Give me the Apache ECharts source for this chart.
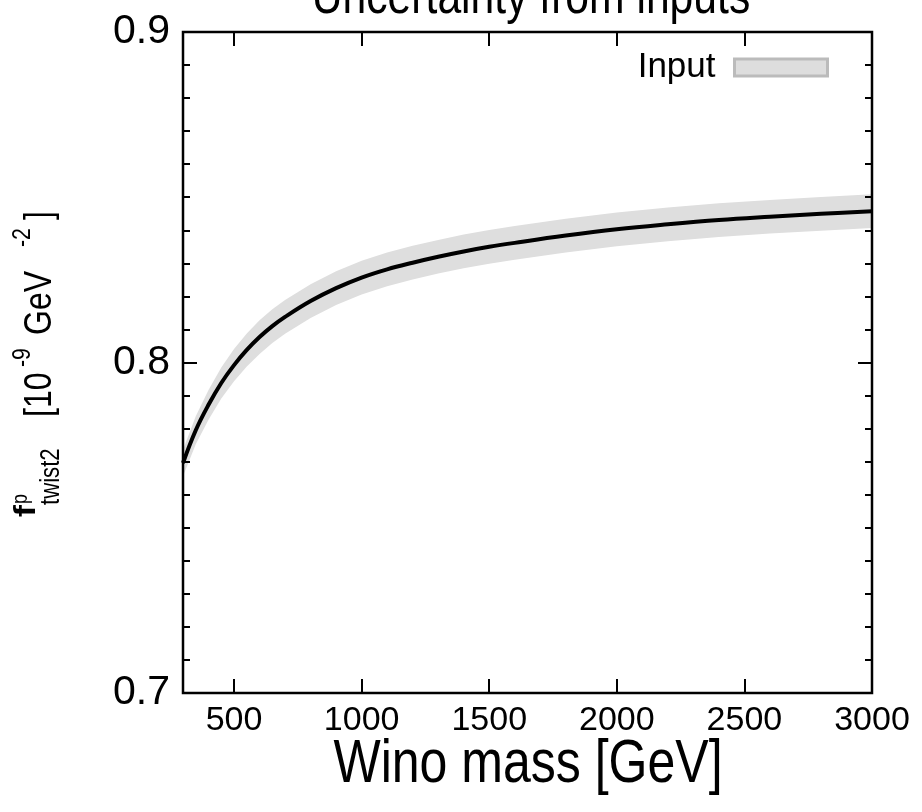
<!DOCTYPE html>
<html>
<head>
<meta charset="utf-8">
<script src="https://cdn.jsdelivr.net/npm/echarts@6/dist/echarts.min.js"></script>
<style>html,body{margin:0;padding:0;background:#fff}#c{width:922px;height:812px}</style>
</head>
<body>
<div id="c"></div>
<script>
// Data
const mass = [300, 350, 400, 450, 500, 550, 600, 650, 700, 800, 900, 1000, 1100, 1200, 1300, 1400, 1500, 1600, 1800, 2000, 2200, 2400, 2600, 2800, 3000];
const central = [0.7696, 0.7795, 0.7872, 0.7938, 0.7992, 0.8038, 0.8077, 0.8110, 0.8138, 0.8186, 0.8225, 0.8257, 0.8282, 0.8302, 0.8320, 0.8336, 0.8350, 0.8362, 0.8384, 0.8403, 0.8418, 0.8431, 0.8441, 0.8450, 0.8458];
const errHalf = [0.0040, 0.0042, 0.0045, 0.0047, 0.0049, 0.0050, 0.0051, 0.0051, 0.0051, 0.0051, 0.0051, 0.0051, 0.0051, 0.0051, 0.0051, 0.0051, 0.0051, 0.0051, 0.0051, 0.0051, 0.0051, 0.0051, 0.0051, 0.0051, 0.0051];
const xTickValues = [500, 1000, 1500, 2000, 2500, 3000];
const titleText = 'Uncertainty from inputs';
const xName = 'Wino mass [GeV]';
const legendName = 'Input';

const FONT = "'Liberation Sans', Arial, Helvetica, sans-serif";
const SX = 0.82; // horizontal squeeze to mimic the narrow face of the reference

const bandData = mass.map((m, i) => [m, central[i] - errHalf[i], central[i] + errHalf[i]]);
const lineData = mass.map((m, i) => [m, central[i]]);

const chart = echarts.init(document.getElementById('c'), null, {renderer: 'canvas'});
const tickStyle = {show: true, inside: true, length: 14, lineStyle: {color: '#000', width: 2}};
const minorStyle = {show: true, splitNumber: 10, length: 7, lineStyle: {color: '#000', width: 2}};

function renderBand(params, api) {
  if (params.dataIndex !== 0) return null;
  const up = [], lo = [];
  for (let i = 0; i < bandData.length; i++) {
    up.push(api.coord([bandData[i][0], bandData[i][2]]));
    lo.push(api.coord([bandData[i][0], bandData[i][1]]));
  }
  return {
    type: 'polygon',
    shape: {points: up.concat(lo.reverse())},
    style: {fill: '#dedede', stroke: null},
    clipPath: {type: 'rect', shape: {x: params.coordSys.x, y: params.coordSys.y, width: params.coordSys.width, height: params.coordSys.height}}
  };
}

// text piece helper (baseline-positioned, horizontally squeezed)
function piece(text, x, baseline, size, bold, sx) {
  return {
    type: 'text', x: x, y: baseline - 0.35 * size, scaleX: sx || SX,
    style: {text: text, font: (bold ? 'bold ' : '') + size + 'px ' + FONT, fill: '#000', verticalAlign: 'middle'}
  };
}

chart.setOption({
  animation: false,
  backgroundColor: '#fff',
  grid: {left: 183, right: 50, top: 32, bottom: 119, show: true, borderColor: '#000', borderWidth: 2.5, backgroundColor: 'transparent', z: 8},
  legend: {
    data: [{name: legendName, icon: 'rect', itemStyle: {color: '#dddddd', borderColor: '#bbbbbb', borderWidth: 3}}],
    right: 88, top: 45, align: 'right', itemWidth: 93, itemHeight: 17,
    textStyle: {fontFamily: FONT, fontSize: 35, color: '#000', padding: [0, 14, 0, 0]},
    selectedMode: false
  },
  xAxis: [{
    type: 'value', min: 300, max: 3000, position: 'bottom', z: 10,
    axisLine: {show: false}, splitLine: {show: false},
    axisTick: Object.assign({customValues: xTickValues}, tickStyle),
    axisLabel: {customValues: xTickValues, fontFamily: FONT, fontSize: 34, color: '#000', margin: 11, formatter: v => String(v)}
  }, {
    type: 'value', min: 300, max: 3000, position: 'top', z: 10,
    axisLine: {show: false}, splitLine: {show: false},
    axisTick: Object.assign({customValues: xTickValues}, tickStyle),
    axisLabel: {show: false}
  }],
  yAxis: [{
    type: 'value', min: 0.7, max: 0.9, interval: 0.1, position: 'left', z: 10,
    axisLine: {show: false}, splitLine: {show: false},
    axisTick: tickStyle, minorTick: minorStyle,
    axisLabel: {fontFamily: FONT, fontSize: 41, color: '#000', margin: 13, formatter: v => v.toFixed(1)}
  }, {
    type: 'value', min: 0.7, max: 0.9, interval: 0.1, position: 'right', z: 10,
    axisLine: {show: false}, splitLine: {show: false},
    axisTick: tickStyle, minorTick: minorStyle,
    axisLabel: {show: false}
  }],
  series: [{
    type: 'custom', name: legendName, data: bandData, renderItem: renderBand,
    encode: {x: 0, y: [1, 2]}, silent: true, z: 2,
    itemStyle: {color: '#dddddd', borderColor: '#bbbbbb'}
  }, {
    type: 'line', name: 'central', data: lineData, smooth: 0.4, symbol: 'none',
    lineStyle: {color: '#000', width: 4}, z: 5, silent: true
  }],
  graphic: [{
    type: 'text', x: 531, y: 17 - 0.35 * 52, scaleX: SX,
    style: {text: titleText, font: '52px ' + FONT, fill: '#000', align: 'center', verticalAlign: 'middle'}
  }, {
    type: 'text', x: 528, y: 787 - 0.35 * 61, scaleX: SX,
    style: {text: xName, font: '61px ' + FONT, fill: '#000', align: 'center', verticalAlign: 'middle'}
  }, {
    type: 'group', x: 0, y: 517, rotation: Math.PI / 2,
    children: [
      piece('f', 0, 37, 30, true, 1.2),
      piece('p', 13, 29, 22, false),
      piece('twist2', 12, 61, 27, false),
      piece('[10', 100, 54, 39, false),
      piece('-9', 150, 32, 26, false),
      piece('GeV', 182, 54, 39, false),
      piece('-2', 270, 32, 26, false),
      piece(']', 297, 54, 39, false)
    ]
  }]
});
</script>
</body>
</html>
